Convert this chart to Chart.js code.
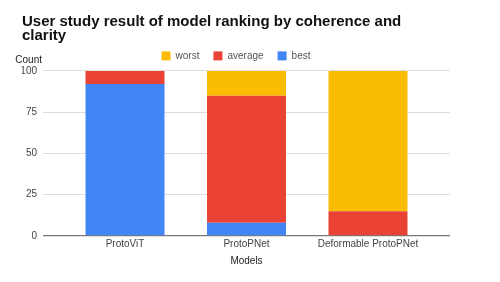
<!DOCTYPE html>
<html>
<head>
<meta charset="utf-8">
<script src="https://cdn.jsdelivr.net/npm/chart.js@4"></script>
<style>
  html, body { margin: 0; padding: 0; background: #fff; }
  #wrap { width: 500px; height: 282px; }
</style>
</head>
<body>
<div id="wrap"><canvas id="chart"></canvas></div>
<script>
// --- Data ---
const models = ['ProtoViT', 'ProtoPNet', 'Deformable ProtoPNet'];
const best = [92, 8, 0];
const average = [8, 77, 15];
const worst = [0, 15, 85];
const yTicks = [0, 25, 50, 75, 100];

const toPoints = arr => arr.map((v, i) => ({ x: i, y: v }));

// "Count" label sits above the y axis, horizontal
const countLabel = {
    id: 'countLabel',
    afterDraw(chart) {
        const { ctx, chartArea } = chart;
        ctx.save();
        ctx.font = '10px "Liberation Sans", Arial, sans-serif';
        ctx.fillStyle = '#222';
        ctx.textAlign = 'right';
        ctx.textBaseline = 'middle';
        ctx.fillText('Count', chartArea.left - 1, chartArea.top - 11);
        ctx.restore();
    }
};

const ctx = document.getElementById('chart').getContext('2d');
new Chart(ctx, {
    type: 'bar',
    data: {
        datasets: [
            { label: 'best', data: toPoints(best), backgroundColor: '#4285F4' },
            { label: 'average', data: toPoints(average), backgroundColor: '#EA4335' },
            { label: 'worst', data: toPoints(worst), backgroundColor: '#FBBC04' }
        ]
    },
    options: {
        responsive: true,
        maintainAspectRatio: false,
        animation: false,
        barPercentage: 0.65,
        categoryPercentage: 1,
        layout: { padding: { left: 22, right: 50, top: 0, bottom: 15 } },
        plugins: {
            title: {
                display: true,
                text: ['User study result of model ranking by coherence and', 'clarity'],
                align: 'start',
                color: '#111',
                font: { family: '"Liberation Sans", Arial, sans-serif', size: 15, weight: 'bold', lineHeight: 0.93 },
                padding: { top: 15, bottom: -6 }
            },
            legend: {
                reverse: true,
                labels: {
                    boxWidth: 9,
                    boxHeight: 9,
                    padding: 14,
                    color: '#555',
                    font: { family: '"Liberation Sans", Arial, sans-serif', size: 10 }
                }
            },
            tooltip: { enabled: false }
        },
        scales: {
            x: {
                type: 'linear',
                stacked: true,
                offset: false,
                min: -0.675,
                max: 2.675,
                afterBuildTicks: s => { s.ticks = models.map((m, i) => ({ value: i })); },
                ticks: {
                    callback: v => models[v],
                    color: '#444',
                    font: { family: '"Liberation Sans", Arial, sans-serif', size: 10 },
                    padding: 2,
                    maxRotation: 0
                },
                grid: { display: false, drawTicks: false },
                border: { display: false },
                title: {
                    display: true,
                    text: 'Models',
                    color: '#222',
                    font: { family: '"Liberation Sans", Arial, sans-serif', size: 10 },
                    padding: { top: 3, bottom: 0 }
                }
            },
            y: {
                stacked: true,
                min: 0,
                max: 100,
                afterBuildTicks: s => { s.ticks = yTicks.map(v => ({ value: v })); },
                afterFit: s => { s.width = 21; },
                ticks: {
                    color: '#444',
                    font: { family: '"Liberation Sans", Arial, sans-serif', size: 10 },
                    padding: 6
                },
                grid: {
                    drawTicks: false,
                    color: c => c.tick.value === 0 ? '#777' : '#ddd',
                    lineWidth: c => c.tick.value === 0 ? 1.3 : 1
                },
                border: { display: false }
            }
        }
    },
    plugins: [countLabel]
});
</script>
</body>
</html>
